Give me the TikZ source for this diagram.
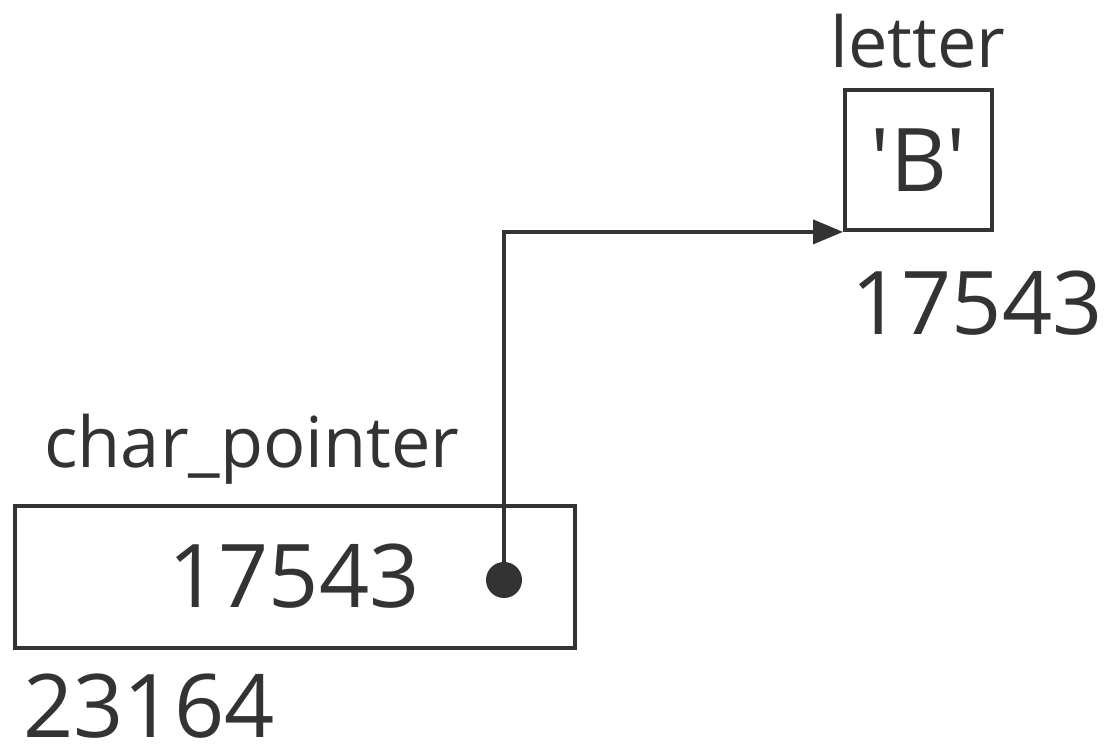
\documentclass[tikz,border=0pt]{standalone}
\usepackage{fontspec}
\setmainfont{Open Sans}
\usetikzlibrary{positioning, arrows.meta}
\definecolor{inkgray}{HTML}{333333}

\begin{document}
\begin{tikzpicture}[
    % Styles
    varbox/.style={rectangle, draw=inkgray, line width=1.1pt, fill=white, inner sep=0pt},
    namelabel/.style={anchor=base, inner sep=0pt, text=inkgray, font=\fontsize{20}{24}\selectfont},
    valtext/.style={anchor=base, inner sep=0pt, text=inkgray, font=\fontsize{25}{30}\selectfont},
    dotnode/.style={circle, fill=inkgray, inner sep=0pt, minimum size=0.36cm},
    pointer/.style={-{Triangle[length=0.3cm, width=0.24cm]}, line width=1.1pt, inkgray}
]
\useasboundingbox (0,0) rectangle (11.11,7.51);

% ==================== LETTER ====================
\node[varbox, minimum width=1.47cm, minimum height=1.40cm] (letterbox) at (9.185, 5.91) {};
\node[valtext, anchor=center] (letterval) at (letterbox.center) {\textquotesingle B\textquotesingle};
\node[namelabel] (lettername) at (9.18, 6.83) {letter};
\node[valtext] (letteraddr) at (9.77, 4.16) {17543};

% ==================== CHAR POINTER ====================
\node[varbox, minimum width=5.6cm, minimum height=1.42cm] (ptrbox) at (2.95, 1.74) {};
\node[valtext] (ptrval) at (2.94, 1.43) {17543};
\node[namelabel] (ptrname) at (2.52, 2.83) {char\_pointer};
\node[valtext] (ptraddr) at (1.49, 0.13) {23164};
\node[dotnode] (ptrdot) at (5.04, 1.71) {};

% Pointer to letter
\draw[pointer] (ptrdot.center) |- (letterbox.south west);

\end{tikzpicture}
\end{document}
